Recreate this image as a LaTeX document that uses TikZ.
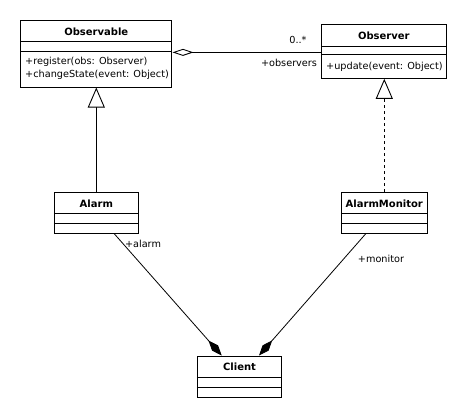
\documentclass[tikz,border=0pt]{standalone}
\usepackage{fontspec}
\setmainfont{DejaVu Sans}
\usetikzlibrary{arrows.meta,calc}
\tikzset{
  cls/.style={draw, line width=1pt, rectangle, inner sep=0pt},
  sep/.style={line width=1pt},
  cname/.style={font=\fontsize{10}{11}\selectfont\bfseries, inner sep=0pt},
  ops/.style={font=\fontsize{9.7}{13}\selectfont, align=left, anchor=west, inner sep=0pt},
  lbl/.style={font=\fontsize{9.7}{11}\selectfont, inner sep=0pt},
  conn/.style={line width=0.8pt},
  gen/.style={conn, -{Triangle[open, length=20pt, width=17pt, line width=0.9pt, fill=white]}},
  agg/.style={conn, {Diamond[open, length=21pt, width=7pt, line width=0.9pt, fill=white]}-},
  comp/.style={conn, -{Diamond[length=20pt, width=8pt]}}
}
\begin{document}
\begin{tikzpicture}[x=1pt,y=-1pt]
\useasboundingbox (0,0) rectangle (467,418);
% classes
\node[cls, minimum width=151.3pt, minimum height=66.3pt] (observable) at (96.3,53.85) {};
\node[cls, minimum width=124.3pt, minimum height=54pt] (observer) at (383.85,51.3) {};
\node[cls, minimum width=84pt, minimum height=41pt] (alarm) at (96.3,212.8) {};
\node[cls, minimum width=86pt, minimum height=41pt] (amon) at (384.3,212.8) {};
\node[cls, minimum width=84.4pt, minimum height=41.3pt] (client) at (239.5,376.65) {};
% separators
\draw[sep] ($(observable.north west)+(0,21.6)$) -- ($(observable.north east)+(0,21.6)$);
\draw[sep] ($(observable.north west)+(0,31)$) -- ($(observable.north east)+(0,31)$);
\draw[sep] ($(observer.north west)+(0,22.4)$) -- ($(observer.north east)+(0,22.4)$);
\draw[sep] ($(observer.north west)+(0,30.7)$) -- ($(observer.north east)+(0,30.7)$);
\draw[sep] ($(alarm.north west)+(0,22)$) -- ($(alarm.north east)+(0,22)$);
\draw[sep] ($(alarm.north west)+(0,31.4)$) -- ($(alarm.north east)+(0,31.4)$);
\draw[sep] ($(amon.north west)+(0,22)$) -- ($(amon.north east)+(0,22)$);
\draw[sep] ($(amon.north west)+(0,31.4)$) -- ($(amon.north east)+(0,31.4)$);
\draw[sep] ($(client.north west)+(0,22.3)$) -- ($(client.north east)+(0,22.3)$);
\draw[sep] ($(client.north west)+(0,31.7)$) -- ($(client.north east)+(0,31.7)$);
% names
\node[cname] (n1) at (96.3,31.5) {Observable};
\node[cname] (n2) at (383.85,35.5) {Observer};
\node[cname] (n3) at (96.3,203.3) {Alarm};
\node[cname] (n4) at (384.3,203.3) {AlarmMonitor};
\node[cname] (n5) at (239.5,367) {Client};
% operations
\node[ops] (o1) at (25,68.5) {+register(obs: Observer)\\+changeState(event: Object)};
\node[ops] (o2) at (326,66.7) {+update(event: Object)};
% connectors
\draw[agg] ([yshift=1.5pt]observable.east) -- ([yshift=1.5pt]observable.east -| observer.west);
\draw[gen] (alarm.north) -- (observable.south);
\draw[gen, dash pattern=on 3pt off 3pt] (amon.north) -- (amon.north |- observer.south);
\draw[comp] ([xshift=18pt]alarm.south) -- ([xshift=-17.8pt]client.north);
\draw[comp] ([xshift=-18.6pt]amon.south) -- ([xshift=19.5pt]client.north);
% labels
\node[lbl] (l1) at (298,40) {0..*};
\node[lbl] (l2) at (289,63) {+observers};
\node[lbl] (l3) at (143,244) {+alarm};
\node[lbl] (l4) at (381,259) {+monitor};
\end{tikzpicture}
\end{document}
